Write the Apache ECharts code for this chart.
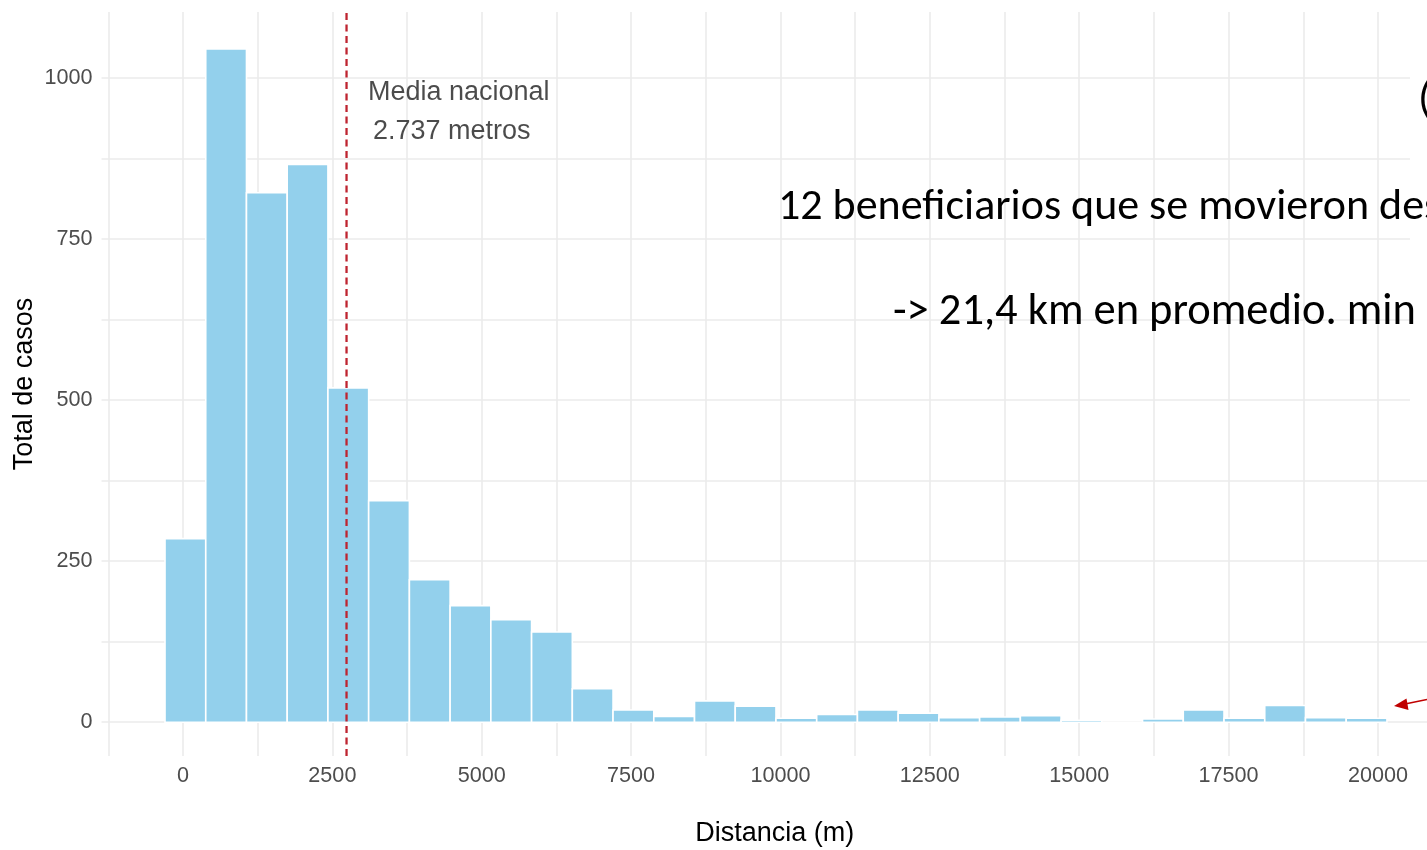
<!DOCTYPE html>
<html><head><meta charset="utf-8">
<script src="https://cdn.jsdelivr.net/npm/echarts@6/dist/echarts.min.js"></script>
<style>html,body{margin:0;padding:0;background:#fff;overflow:hidden}#c{width:1427px;height:850px}</style>
</head><body><div id="c"></div>
<script>
// ---- data ----
const binStart = -301;          // left edge of first bin (m)
const binWidth = 681.7;         // bin width (m)
const counts = [285,1045,822,866,519,344,221,181,159,140,52,19,9,33,25,6,12,19,14,7,8,10,3,0,5,19,6,26,7,6];
const meanDistance = 2737;
const xLabelValues = [0,2500,5000,7500,10000,12500,15000,17500,20000];
const xGridValues = [-1250,0,1250,2500,3750,5000,6250,7500,8750,10000,11250,12500,13750,15000,16250,17500,18750,20000];
const yLabelValues = [0,250,500,750,1000];
const yGridValues = [0,125,250,375,500,625,750,875,1000];
const xTitle = 'Distancia (m)';
const yTitle = 'Total de casos';
const meanLabels = ['Media nacional', '2.737 metros'];
const meanLabelAnchors = [[3096, 978], [3180, 917]];
const noteLines = ['12 beneficiarios que se movieron des', '-> 21,4 km en promedio. min', '('];

const xMin = -1364, xMax = 21172, yMin = -52.5, yMax = 1102.5;

const histData = counts.map((c, i) => [binStart + i * binWidth, binStart + (i + 1) * binWidth, c]);

const chart = echarts.init(document.getElementById('c'), null, {renderer: 'canvas'});
const sans = "'Liberation Sans', Arial, sans-serif";
const noteFont = "Carlito, Lato, 'Open Sans', sans-serif";
const gridColor = '#EBEBEB';
const plain = v => String(v);

chart.setOption({
  animation: false,
  backgroundColor: '#ffffff',
  grid: {left: 101.5, top: 12, width: 1346.5, height: 744, containLabel: false, outerBoundsMode: 'none'},
  xAxis: {
    type: 'value', min: xMin, max: xMax,
    name: xTitle, nameLocation: 'middle', nameGap: 64,
    nameTextStyle: {fontFamily: sans, fontSize: 27, color: '#000'},
    axisLine: {show: false},
    axisTick: {show: false, customValues: xGridValues},
    axisLabel: {customValues: xLabelValues, formatter: plain, fontFamily: sans, fontSize: 21.6, color: '#4D4D4D', margin: 9},
    splitLine: {show: true, lineStyle: {color: gridColor, width: 1.6}}
  },
  yAxis: {
    type: 'value', min: yMin, max: yMax,
    name: yTitle, nameLocation: 'middle', nameGap: 63, nameMoveOverlap: false,
    nameTextStyle: {fontFamily: sans, fontSize: 27, color: '#000'},
    axisLine: {show: false},
    axisTick: {show: false, customValues: yGridValues},
    axisLabel: {customValues: yLabelValues, formatter: plain, fontFamily: sans, fontSize: 21.6, color: '#4D4D4D', margin: 9},
    splitLine: {show: true, lineStyle: {color: gridColor, width: 1.6}}
  },
  series: [
    {
      type: 'custom',
      data: histData,
      encode: {x: [0, 1], y: 2},
      renderItem: function (params, api) {
        const p0 = api.coord([api.value(0), api.value(2)]);
        const p1 = api.coord([api.value(1), 0]);
        return {
          type: 'rect',
          shape: {x: p0[0], y: p0[1], width: p1[0] - p0[0], height: p1[1] - p0[1]},
          style: {fill: '#93D0EC', stroke: '#ffffff', lineWidth: 1.6}
        };
      },
      z: 2
    },
    {
      type: 'line',
      data: [[meanDistance, yMin], [meanDistance, yMax]],
      symbol: 'none',
      lineStyle: {color: '#BE2430', width: 2.3, type: [7, 4.5]},
      z: 3, silent: true
    },
    {
      type: 'scatter',
      data: meanLabelAnchors.map((a, i) => [a[0], a[1], meanLabels[i]]),
      symbolSize: 0,
      label: {
        show: true, position: 'right', distance: 0,
        formatter: p => p.value[2],
        fontFamily: sans, fontSize: 27, color: '#1e1e1e'
      },
      z: 4, silent: true
    }
  ],
  graphic: [
    {type: 'rect', left: 1410, top: 0, shape: {width: 17, height: 440}, style: {fill: '#ffffff'}, z: 100},
    {type: 'text', x: 778, y: 208, style: {text: noteLines[0], font: '44px ' + noteFont, fill: '#000', verticalAlign: 'middle'}, z: 101},
    {type: 'text', x: 893, y: 313, style: {text: noteLines[1], font: '44.5px ' + noteFont, fill: '#000', verticalAlign: 'middle'}, z: 101},
    {type: 'text', x: 1418, y: 101, style: {text: noteLines[2], font: '44px ' + noteFont, fill: '#000', verticalAlign: 'middle'}, z: 101},
    {type: 'line', shape: {x1: 1427, y1: 699.5, x2: 1405, y2: 704}, style: {stroke: '#C00000', lineWidth: 1.6}, z: 101},
    {type: 'polygon', shape: {points: [[1394, 706], [1408.5, 710], [1406.5, 698.5]]}, style: {fill: '#C00000'}, z: 101}
  ]
});
</script></body></html>
